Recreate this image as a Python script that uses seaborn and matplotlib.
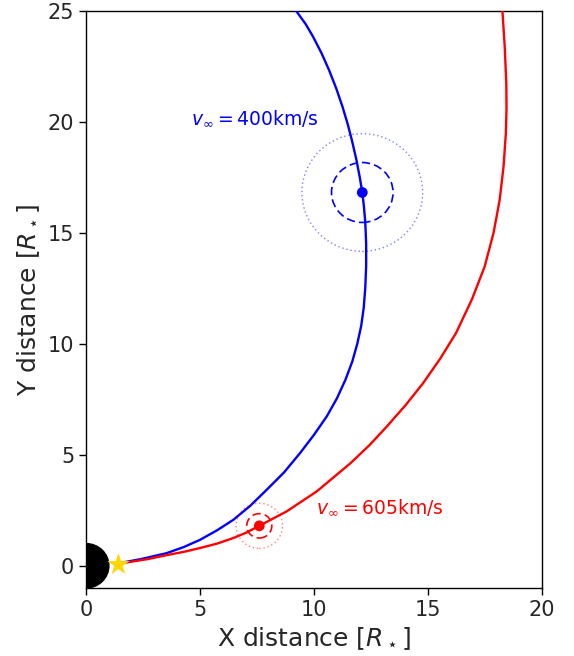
import matplotlib
matplotlib.use("Agg")
import matplotlib.pyplot as plt
from matplotlib.patches import Circle
import seaborn as sns
import pandas as pd

# ---- data ----
blue_x = [1.46, 2.4, 3.54, 4.3, 5.0, 5.75, 6.46, 7.2, 7.92, 8.68, 9.39, 10.0, 10.56, 11.01, 11.38,
          11.68, 11.90, 12.07, 12.18, 12.25, 12.29, 12.29, 12.25, 12.19, 12.12, 12.01, 11.86, 11.66,
          11.48, 11.25, 10.98, 10.66, 10.33, 9.96, 9.64, 9.22]
blue_y = [0.12, 0.3, 0.57, 0.85, 1.17, 1.6, 2.07, 2.7, 3.42, 4.2, 5.08, 5.9, 6.73, 7.55, 8.38,
          9.2, 10.0, 10.8, 11.6, 12.5, 13.5, 14.5, 15.5, 16.2, 16.82, 17.5, 18.3, 19.19,
          19.9, 20.69, 21.5, 22.34, 23.1, 23.84, 24.4, 25.0]
red_x = [1.46, 1.78, 2.7, 3.54, 4.3, 5.0, 5.75, 6.46, 7.0, 7.60, 8.80, 10.12, 11.60, 12.45, 13.2,
         14.03, 14.79, 15.55, 16.23, 16.93, 17.49, 17.88, 18.15, 18.32, 18.42, 18.45, 18.44, 18.37, 18.27]
red_y = [0.12, 0.15, 0.30, 0.48, 0.63, 0.80, 1.0, 1.25, 1.48, 1.80, 2.45, 3.35, 4.62, 5.45, 6.28,
         7.25, 8.23, 9.35, 10.48, 12.0, 13.48, 15.0, 16.49, 18.0, 19.49, 20.6, 21.74, 23.4, 25.0]

blob_x = [12.12, 7.60]
blob_y = [16.82, 1.80]
blob_colors = ["blue", "red"]
inner_r = [1.35, 0.55]
outer_r = [2.65, 1.02]

star_x = [1.42]
star_y = [0.05]

labels = [r"$v_\infty = 400$km/s", r"$v_\infty = 605$km/s"]
label_x = [4.6, 10.1]
label_y = [19.9, 2.38]

xticks = [0, 5, 10, 15, 20]
yticks = [0, 5, 10, 15, 20, 25]

sns.set_style("ticks")
plt.rcParams['font.family'] = ['DejaVu Sans']

fig = plt.figure(figsize=(5.74, 6.56), dpi=100)
ax = fig.add_axes([0.15, 0.1037, 0.794, 0.8796])

ax.add_patch(Circle((0, 0), 1.0, color="black", zorder=1))

bdf = pd.DataFrame({"x": blue_x, "y": blue_y})
rdf = pd.DataFrame({"x": red_x, "y": red_y})
sns.lineplot(data=bdf, x="x", y="y", sort=False, estimator=None, color="blue", lw=1.7, ax=ax, zorder=3)
sns.lineplot(data=rdf, x="x", y="y", sort=False, estimator=None, color="red", lw=1.7, ax=ax, zorder=3)

for cx, cy, c, ri, ro in zip(blob_x, blob_y, blob_colors, inner_r, outer_r):
    ax.add_patch(Circle((cx, cy), ri, fill=False, ec=c, ls=(0, (5, 2.5)), lw=1.2, zorder=4))
    ax.add_patch(Circle((cx, cy), ro, fill=False, ec=c, ls=(0, (1, 2)), lw=1.0, alpha=0.5, zorder=4))

sns.scatterplot(x=blob_x, y=blob_y, hue=blob_colors, palette={"blue": "blue", "red": "red"},
                s=60, edgecolor="none", legend=False, ax=ax, zorder=5)
sns.scatterplot(x=star_x, y=star_y, marker="*", s=280, color="gold", edgecolor="none",
                legend=False, ax=ax, zorder=6)

for t, tx, ty, c in zip(labels, label_x, label_y, blob_colors):
    ax.text(tx, ty, t, color=c, fontsize=13.5, ha="left", va="baseline")

ax.set_xlim(0, 20)
ax.set_ylim(-1, 25)
ax.set_xticks(xticks)
ax.set_yticks(yticks)
ax.tick_params(labelsize=15, length=5, width=1, color="black")
for s in ax.spines.values():
    s.set_color("black")
    s.set_linewidth(1.0)
ax.set_xlabel(r"X distance [$R_\star$]", fontsize=18)
ax.set_ylabel(r"Y distance [$R_\star$]", fontsize=18)

fig.savefig("out.png", dpi=100)
